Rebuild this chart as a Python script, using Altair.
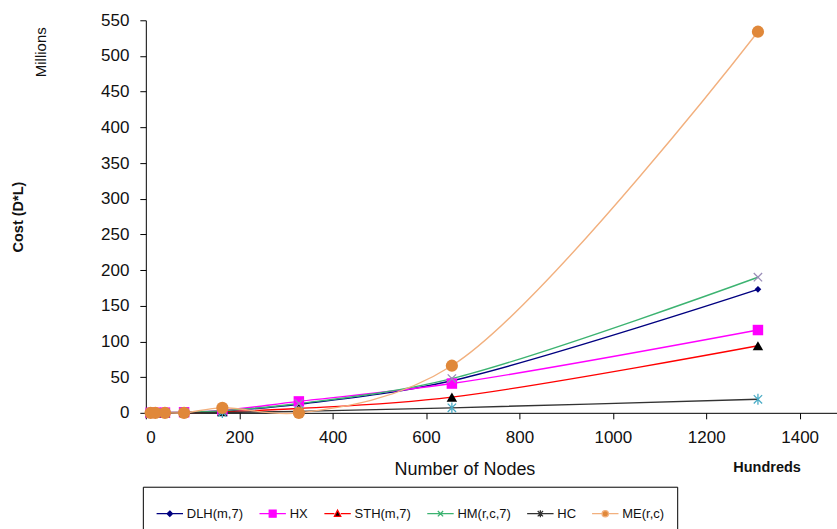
import altair as alt
import pandas as pd

# ---- data (x in hundreds of nodes, y in millions) ----
nodes = [10.24, 20.48, 40.96, 81.92, 163.84, 327.68, 655.36, 1310.72]
series_names = ["DLH(m,7)", "HX", "STH(m,7)", "HM(r,c,7)", "HC", "ME(r,c)"]
dlh = [0.0, 0.1, 0.2, 0.6, 2.6, 12, 45, 173]
hx = [0.0, 0.1, 0.3, 0.8, 3.2, 16, 41, 116]
sth = [0.0, 0.05, 0.1, 0.4, 1.5, 6, 22, 94]
hm = [0.0, 0.1, 0.3, 0.8, 3.0, 13, 48, 190]
hc = [0.0, 0.0, 0.05, 0.1, 0.5, 2, 7, 19]
me = [0.0, 0.0, 0.0, 0.0, 7, 0, 66, 534]
values = [dlh, hx, sth, hm, hc, me]

line_colors = ["#000080", "#FF00FF", "#FF0000", "#3CB371", "#333333", "#F2B07E"]
marker_colors = ["#000080", "#FF00FF", "#000000", "#9A8DB8", "#4BACC6", "#E0883A"]
marker_shapes = [
    "diamond",
    "square",
    "triangle-up",
    "M-1,-1L1,1M-1,1L1,-1",
    "M-1,-1L1,1M-1,1L1,-1M0,-1.3L0,1.3",
    "circle",
]
marker_filled = [True, True, True, False, False, True]
marker_sizes = [45, 110, 110, 70, 70, 150]

legend_paths = [
    "M-1,0H-0.2M0.2,0H1M0,-0.2L0.2,0L0,0.2L-0.2,0Z",
    "M-1,0H-0.26M0.26,0H1M-0.26,-0.26H0.26V0.26H-0.26Z",
    "M-1,0H-0.24M0.24,0H1M0,-0.26L0.24,0.2H-0.24Z",
    "M-1,0H1M-0.2,-0.2L0.2,0.2M-0.2,0.2L0.2,-0.2",
    "M-1,0H1M-0.2,-0.2L0.2,0.2M-0.2,0.2L0.2,-0.2M0,-0.26V0.26",
    "M-1,0H-0.24M0.24,0H1M-0.24,0A0.24,0.24,0,1,0,0.24,0A0.24,0.24,0,1,0,-0.24,0Z",
]
legend_fills = ["#000080", "#FF00FF", "#000000", "#3CB371", "#333333", "#E0883A"]

rows = []
for name, vals in zip(series_names, values):
    for n, v in zip(nodes, vals):
        rows.append({"series": name, "nodes": n, "cost": v})
df = pd.DataFrame(rows)

FONT = "Liberation Sans"

x_enc = alt.X(
    "nodes:Q",
    scale=alt.Scale(domain=[0, 1480], nice=False, zero=True),
    axis=alt.Axis(
        values=[0, 200, 400, 600, 800, 1000, 1200, 1400],
        format="d",
        title="Number of Nodes",
        titleFontSize=18,
        titleFontWeight="normal",
        titleX=319,
        titleY=48,
        titleAnchor="middle",
        labelFontSize=17,
        labelPadding=11,
        tickSize=6,
        grid=False,
    ),
)
y_enc = alt.Y(
    "cost:Q",
    scale=alt.Scale(domain=[0, 550], nice=False),
    axis=alt.Axis(
        values=list(range(0, 551, 50)),
        format="d",
        title="Cost (D*L)",
        titleFontSize=14.5,
        titleFontWeight="bold",
        titleX=-120,
        labelFontSize=17,
        labelPadding=11,
        tickSize=6,
        grid=False,
    ),
)

layers = []
for i, name in enumerate(series_names):
    base = alt.Chart(df).transform_filter(alt.datum.series == name)
    layers.append(
        base.mark_line(interpolate="catmull-rom", strokeWidth=1.4, color=line_colors[i]).encode(
            x=x_enc, y=y_enc
        )
    )
for i, name in enumerate(series_names):
    base = alt.Chart(df).transform_filter(alt.datum.series == name)
    if marker_filled[i]:
        mk = base.mark_point(
            shape=marker_shapes[i], filled=True, color=marker_colors[i],
            size=marker_sizes[i], opacity=1,
        )
    else:
        mk = base.mark_point(
            shape=marker_shapes[i], filled=False, color=marker_colors[i],
            size=marker_sizes[i], strokeWidth=1.3, opacity=1,
        )
    layers.append(mk.encode(x=x_enc, y=y_enc))

legend_layer = (
    alt.Chart(df)
    .transform_filter("datum.cost < 0")
    .mark_point(filled=True, strokeWidth=1.3, opacity=1, fillOpacity=1, strokeOpacity=1)
    .encode(
        x=x_enc,
        y=y_enc,
        stroke=alt.Stroke(
            "series:N",
            scale=alt.Scale(domain=series_names, range=line_colors),
            legend=alt.Legend(
                title=None,
                orient="none",
                direction="horizontal",
                legendX=-3,
                legendY=467,
                columns=6,
                symbolSize=700,
                symbolStrokeWidth=1.3,
                symbolOpacity=1,
                labelFontSize=13,
                labelFont=FONT,
                labelColor="#111111",
                labelOffset=3,
                columnPadding=13,
                padding=13,
                strokeColor="#000000",
                fillColor="white",
                cornerRadius=0,
            ),
        ),
        fill=alt.Fill("series:N", scale=alt.Scale(domain=series_names, range=legend_fills)),
        shape=alt.Shape("series:N", scale=alt.Scale(domain=series_names, range=legend_paths)),
    )
)
layers.append(legend_layer)

millions = alt.Chart(pd.DataFrame({"t": ["Millions"]})).mark_text(
    angle=270, font=FONT, fontSize=15, color="#111111",
    align="center", baseline="middle",
).encode(text="t:N", x=alt.value(-105), y=alt.value(32))

hundreds = alt.Chart(pd.DataFrame({"t": ["Hundreds"]})).mark_text(
    font=FONT, fontSize=14.5, fontWeight="bold", color="#111111",
    align="center", baseline="middle",
).encode(text="t:N", x=alt.value(622), y=alt.value(448))

layers.append(millions)
layers.append(hundreds)

chart = (
    alt.layer(*layers)
    .properties(
        width=692,
        height=393,
        autosize=alt.AutoSizeParams(type="none"),
        padding={"left": 146, "top": 20, "right": 0, "bottom": 116},
    )
    .configure_view(stroke=None)
    .configure_axis(
        domainColor="#000000",
        tickColor="#000000",
        domainWidth=1,
        labelFont=FONT,
        titleFont=FONT,
        labelColor="#111111",
        titleColor="#111111",
    )
)

chart.save("out.html", embed_options={"renderer": "svg", "actions": False})
